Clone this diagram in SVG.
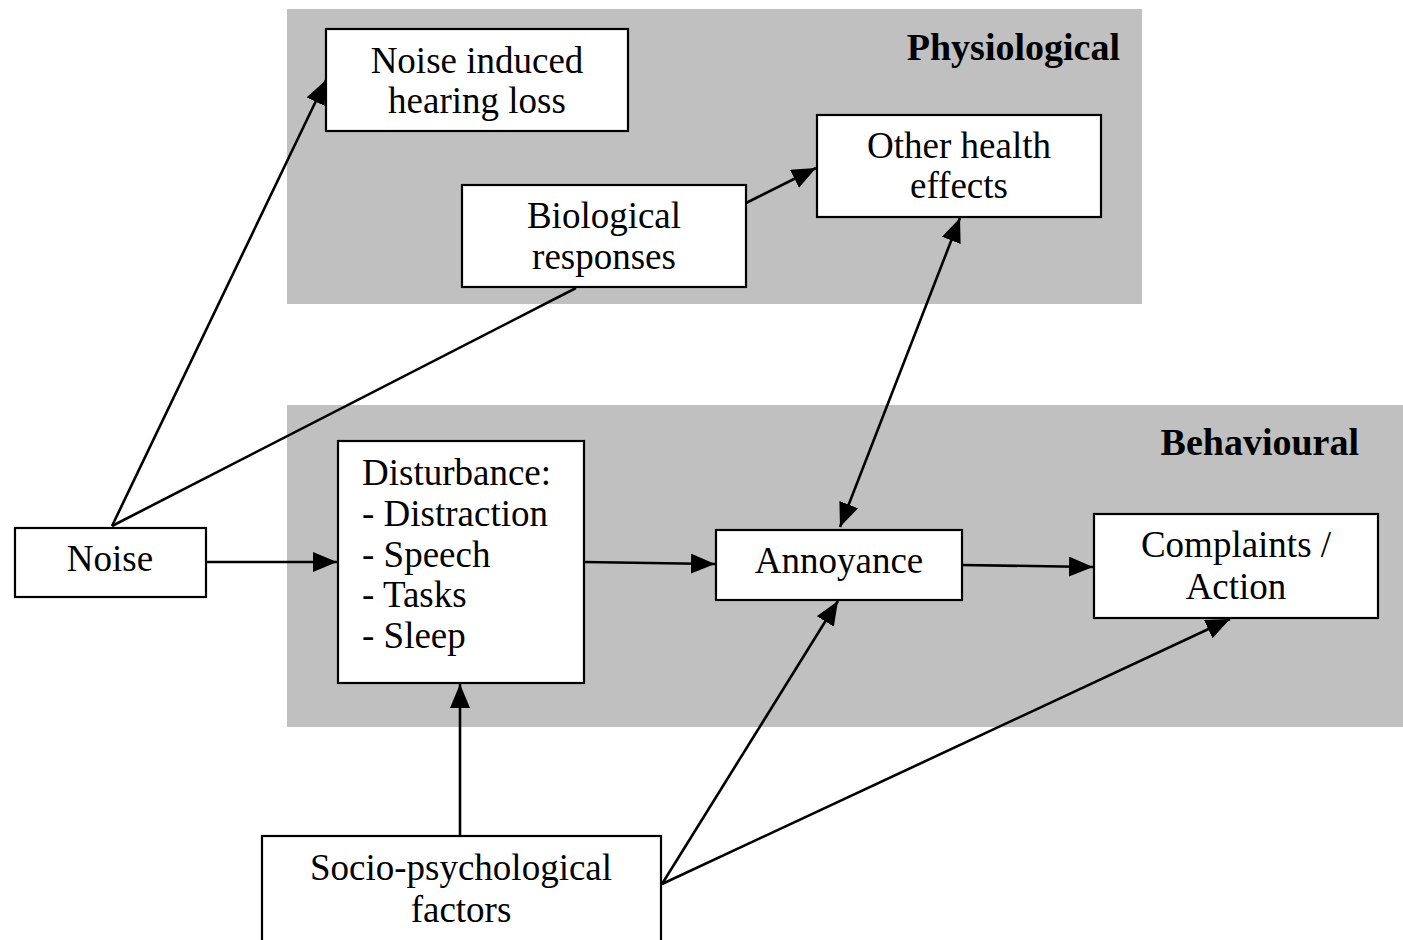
<svg xmlns="http://www.w3.org/2000/svg" width="1403" height="940" viewBox="0 0 1403 940">
  <style>
    .panel { fill: #c0c0c0; stroke: none; }
    .box { fill: #ffffff; stroke: #000000; stroke-width: 2.2; }
    .lbl { font-family: "Liberation Serif", "Times New Roman", serif; font-size: 37px; fill: #000000; text-anchor: middle; }
    .left { text-anchor: start; }
    .head { font-size: 38px; font-weight: bold; text-anchor: end; }
    .edge { stroke: #000000; stroke-width: 2.6; fill: none; }
  </style>
  <defs>
    <marker id="arrow" markerUnits="userSpaceOnUse" markerWidth="26" markerHeight="22" refX="24" refY="10" orient="auto-start-reverse" viewBox="0 0 26 22">
      <path d="M0,0 L24,10 L0,20 Z" fill="#000000"/>
    </marker>
  </defs>

  <rect width="1403" height="940" fill="#ffffff"/>

  <!-- grouping panels -->
  <g id="panel-physiological">
    <rect class="panel" x="287" y="9" width="855" height="295"/>
    <text class="lbl head" x="1120" y="60">Physiological</text>
  </g>
  <g id="panel-behavioural">
    <rect class="panel" x="287" y="405" width="1116" height="322"/>
    <text class="lbl head" x="1359" y="455">Behavioural</text>
  </g>

  <!-- connectors -->
  <g id="connectors">
    <line class="edge" x1="112" y1="526" x2="326" y2="80" marker-end="url(#arrow)"/>
    <line class="edge" x1="112" y1="526" x2="576" y2="288"/>
    <line class="edge" x1="746" y1="203" x2="816" y2="168" marker-end="url(#arrow)"/>
    <line class="edge" x1="960" y1="218" x2="840" y2="527" marker-start="url(#arrow)" marker-end="url(#arrow)"/>
    <line class="edge" x1="206" y1="562" x2="337" y2="562" marker-end="url(#arrow)"/>
    <line class="edge" x1="584" y1="562" x2="715" y2="564" marker-end="url(#arrow)"/>
    <line class="edge" x1="962" y1="565" x2="1093" y2="567" marker-end="url(#arrow)"/>
    <line class="edge" x1="460" y1="836" x2="460" y2="684" marker-end="url(#arrow)"/>
    <line class="edge" x1="662" y1="884" x2="838" y2="601" marker-end="url(#arrow)"/>
    <line class="edge" x1="662" y1="884" x2="1230" y2="619" marker-end="url(#arrow)"/>
  </g>

  <!-- nodes -->
  <g id="node-hearing-loss">
    <rect class="box" x="326" y="29" width="302" height="102"/>
    <text class="lbl" x="477" y="73">Noise induced</text>
    <text class="lbl" x="477" y="113">hearing loss</text>
  </g>
  <g id="node-other-health">
    <rect class="box" x="817" y="115" width="284" height="102"/>
    <text class="lbl" x="959" y="158">Other health</text>
    <text class="lbl" x="959" y="198">effects</text>
  </g>
  <g id="node-biological">
    <rect class="box" x="462" y="185" width="284" height="102"/>
    <text class="lbl" x="604" y="228">Biological</text>
    <text class="lbl" x="604" y="269">responses</text>
  </g>
  <g id="node-noise">
    <rect class="box" x="15" y="528" width="191" height="69"/>
    <text class="lbl" x="110" y="571">Noise</text>
  </g>
  <g id="node-disturbance">
    <rect class="box" x="338" y="441" width="246" height="242"/>
    <text class="lbl left" x="362" y="485">Disturbance:</text>
    <text class="lbl left" x="362" y="526">- Distraction</text>
    <text class="lbl left" x="362" y="567">- Speech</text>
    <text class="lbl left" x="362" y="607">- Tasks</text>
    <text class="lbl left" x="362" y="648">- Sleep</text>
  </g>
  <g id="node-annoyance">
    <rect class="box" x="716" y="530" width="246" height="70"/>
    <text class="lbl" x="839" y="573">Annoyance</text>
  </g>
  <g id="node-complaints">
    <rect class="box" x="1094" y="514" width="284" height="104"/>
    <text class="lbl" x="1236" y="557">Complaints /</text>
    <text class="lbl" x="1236" y="599">Action</text>
  </g>
  <g id="node-socio">
    <rect class="box" x="262" y="836" width="399" height="110"/>
    <text class="lbl" x="461" y="880">Socio-psychological</text>
    <text class="lbl" x="461" y="922">factors</text>
  </g>
</svg>
